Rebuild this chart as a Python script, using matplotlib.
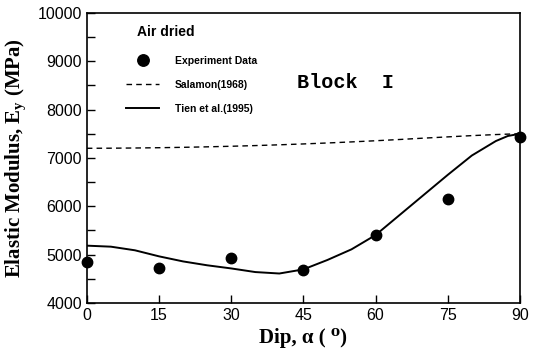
import numpy as np
import matplotlib.pyplot as plt
from matplotlib.ticker import MultipleLocator

# Experiment data (dip angle in degrees, modulus in MPa)
dip_exp = [0, 15, 30, 45, 60, 75, 90]
e_exp = [4855, 4720, 4925, 4680, 5405, 6150, 7430]

# Curves
dip_curve = [0, 5, 10, 15, 20, 25, 30, 35, 40, 45, 50, 55, 60, 65, 70, 75, 80, 85, 87.5, 90]
e_salamon = [7200, 7202, 7206, 7212, 7220, 7230, 7242, 7256, 7272, 7290,
             7310, 7332, 7356, 7382, 7410, 7436, 7462, 7484, 7493, 7500]
e_tien = [5186, 5165, 5090, 4965, 4860, 4780, 4715, 4640, 4610, 4695,
          4890, 5110, 5405, 5820, 6235, 6650, 7050, 7350, 7455, 7500]

x_ticks = [0, 15, 30, 45, 60, 75, 90]
y_ticks = [4000, 5000, 6000, 7000, 8000, 9000, 10000]

fig = plt.figure(figsize=(5.36, 3.59), dpi=100)
ax = fig.add_axes([0.162, 0.156, 0.808, 0.808])

ax.plot(dip_curve, e_salamon, '--', color='black', lw=1.0, dashes=(4, 3),
        label='Salamon(1968)')
ax.plot(dip_curve, e_tien, '-', color='black', lw=1.4, label='Tien et al.(1995)')
ax.plot(dip_exp, e_exp, 'o', color='black', ms=7.5, clip_on=False,
        label='Experiment Data', zorder=5)

ax.set_xlim(0, 90)
ax.set_ylim(4000, 10000)
ax.set_xticks(x_ticks)
ax.set_yticks(y_ticks)
ax.yaxis.set_minor_locator(MultipleLocator(500))
ax.tick_params(which='both', direction='in', top=False, right=False,
               labelsize=11.5, width=1.0, length=6)
for lab in ax.get_xticklabels() + ax.get_yticklabels():
    lab.set_fontfamily('Liberation Sans')
for s in ax.spines.values():
    s.set_linewidth(1.2)

ax.set_xlabel('Dip, α ( \u2070)', family=['Liberation Serif', 'DejaVu Serif'],
              fontweight='bold', fontsize=15, labelpad=4)
ax.set_ylabel(r'Elastic Modulus, E$_{\mathregular{y}}$ (MPa)', fontfamily='Liberation Serif',
              fontweight='bold', fontsize=15, labelpad=6)

# Legend block
handles, labels = ax.get_legend_handles_labels()
order = [2, 0, 1]
leg = ax.legend([handles[i] for i in order], [labels[i] for i in order],
                loc='upper left', bbox_to_anchor=(0.069, 0.885), frameon=False,
                prop={'family': 'Liberation Sans', 'weight': 'bold', 'size': 7.5},
                handlelength=3.2, handletextpad=1.5, labelspacing=1.35,
                markerscale=1.1)
ax.text(0.116, 0.935, 'Air dried', transform=ax.transAxes, ha='left', va='center',
        fontfamily='Liberation Sans', fontweight='bold', fontsize=10)
ax.text(0.485, 0.76, 'Block  I', transform=ax.transAxes, ha='left', va='center',
        fontfamily='Liberation Mono', fontweight='bold', fontsize=14.5)

plt.savefig('out.png', dpi=100)
